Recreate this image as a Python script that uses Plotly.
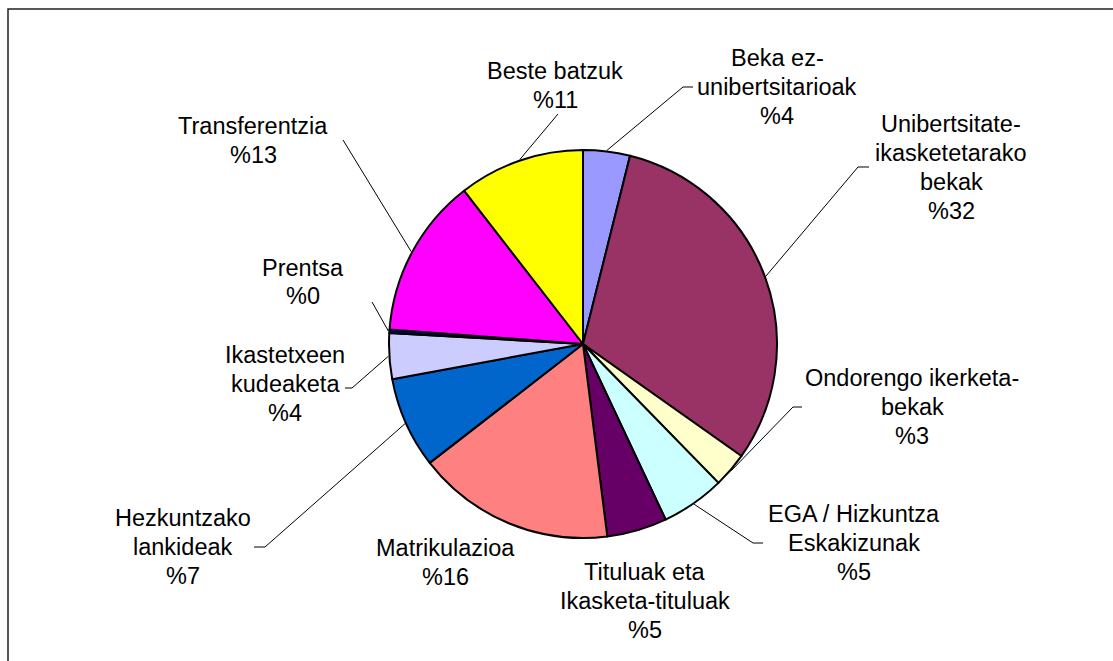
import math
import plotly.graph_objects as go

W, H = 1113, 661

# ---- data ----
categories = [
    "Beka ez-\nunibertsitarioak",
    "Unibertsitate-\nikasketetarako\nbekak",
    "Ondorengo ikerketa-\nbekak",
    "EGA / Hizkuntza\nEskakizunak",
    "Tituluak eta\nIkasketa-tituluak",
    "Matrikulazioa",
    "Hezkuntzako\nlankideak",
    "Ikastetxeen\nkudeaketa",
    "Prentsa",
    "Transferentzia",
    "Beste batzuk",
]
values = [3.9, 30.9, 2.9, 5.3, 5.0, 16.5, 7.6, 3.8, 0.3, 13.3, 10.5]
shown_pct = [4, 32, 3, 5, 5, 16, 7, 4, 0, 13, 11]
colors = ["#9999FF", "#993366", "#FFFFCC", "#CCFFFF", "#660066", "#FF8080",
          "#0066CC", "#CCCCFF", "#000080", "#FF00FF", "#FFFF00"]

# ---- layout (pixels) ----
CX, CY, R = 583, 344, 194
label_pos = [(777, 87), (951, 167), (912, 407), (854, 543), (645, 601), (445, 562),
             (183, 547), (285, 384), (303, 282), (253, 141), (555, 85)]
leader_pts = [[(683, 87), (693, 87)], [(858, 167), (869, 167)], [(793, 407), (802, 407)],
              [(753, 543), (763, 543)], None, None, [(265, 547), (254, 547)],
              [(352, 388), (345, 388)], [(372, 302)], [(343, 140)], [(558, 114)]]
LS = 29
FONT = dict(family="Liberation Sans, Arial, sans-serif", size=23.5, color="black")


def px(x):
    return x / W


def py(y):
    return 1 - y / H


fig = go.Figure(go.Pie(
    values=values, labels=[c.replace("\n", " ") for c in categories],
    sort=False, direction="clockwise", rotation=0,
    marker=dict(colors=colors, line=dict(color="black", width=2)),
    textinfo="none", showlegend=False,
    domain=dict(x=[px(CX - R), px(CX + R)], y=[py(CY + R), py(CY - R)]),
))

annotations = []
shapes = []
total = sum(values)
cum = 0.0
for i, v in enumerate(values):
    mid = (cum + v / 2) / total * 2 * math.pi
    cum += v
    sx, sy = CX + (R + 1) * math.sin(mid), CY - (R + 1) * math.cos(mid)
    lines = categories[i].split("\n") + [f"%{shown_pct[i]}"]
    lx, ly = label_pos[i]
    n = len(lines)
    for k, t in enumerate(lines):
        annotations.append(dict(
            x=px(lx), y=py(ly + (k - (n - 1) / 2) * LS), xref="paper", yref="paper",
            text=t, showarrow=False, font=FONT, xanchor="center", yanchor="middle"))
    if leader_pts[i]:
        pts = [(sx, sy)] + leader_pts[i]
        path = "M " + " L ".join(f"{px(a)},{py(b)}" for a, b in pts)
        shapes.append(dict(type="path", path=path, xref="paper", yref="paper",
                           line=dict(color="black", width=1)))

# outer frame
shapes.append(dict(type="rect", xref="paper", yref="paper",
                   x0=px(8), x1=px(W + 20), y0=py(H + 20), y1=py(9),
                   line=dict(color="#222222", width=1.5)))

fig.update_layout(
    width=W, height=H, margin=dict(l=0, r=0, t=0, b=0),
    paper_bgcolor="white", plot_bgcolor="white",
    annotations=annotations, shapes=shapes,
)
fig.write_html("out.html")
